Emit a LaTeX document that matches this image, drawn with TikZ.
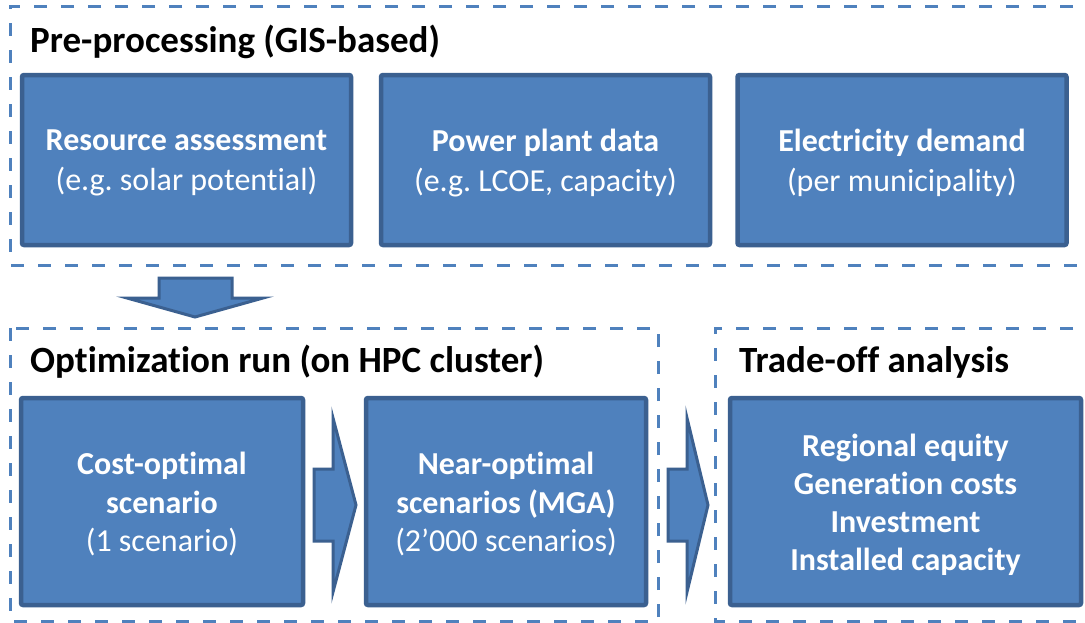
\documentclass[tikz,border=0pt]{standalone}
\usepackage{fontspec}
\setmainfont{Carlito}[RawFeature=-liga]
\usetikzlibrary{calc}
\definecolor{fillb}{HTML}{4F81BD}
\definecolor{edgeb}{HTML}{3B6090}
\definecolor{dashb}{HTML}{4F81BD}
\frenchspacing
\begin{document}
\begin{tikzpicture}[x=1pt,y=-1pt,
  box/.style={draw=edgeb, fill=fillb, line width=4.5pt, rounded corners=2pt,
    inner sep=0pt},
  topbox/.style={box, minimum width=329pt, minimum height=170pt},
  botbox/.style={box, minimum height=207pt},
  boxtext/.style={text=white, align=center, inner sep=0pt},
  toptext/.style={boxtext, font=\fontsize{32}{40}\selectfont},
  bottext/.style={boxtext, font=\fontsize{32}{38.5}\selectfont},
  group/.style={draw=dashb, line width=3pt, dash pattern=on 13pt off 14pt},
  grouptitle/.style={anchor=base west, inner sep=0pt,
    font=\fontsize{37}{44}\selectfont\bfseries},
  blockarrow/.style={draw=edgeb, fill=fillb, line width=3pt, line join=miter}]
\useasboundingbox (0,0) rectangle (1085,622);
\clip (0,0) rectangle (1085,622);
\fill[white] (0,0) rectangle (1085,622);

% groups
\draw[group] (1100,6) -- (10,6) -- (10,265) -- (1100,265);
\draw[group] (10,328) rectangle (658,621);
\draw[group] (1100,328) -- (715,328) -- (715,621) -- (1100,621);

\node[grouptitle] (t1) at (30,52) {Pre-processing (GIS-based)};
\node[grouptitle] (t2) at (30,372) {Optimization run (on HPC cluster)};
\node[grouptitle] (t3) at (739,372) {Trade-off analysis};

% top boxes
\node[topbox] (ra) at (186.5,160) {};
\node[topbox] (pp) at (545.5,160) {};
\node[topbox] (ed) at (902,160) {};
\node[toptext] (ra-t) at ($(ra.center)+(0,3)$) {\textbf{Resource assessment}\\(e.g. solar potential)};
\node[toptext] (pp-t) at ($(pp.center)+(0,3)$) {\textbf{Power plant data}\\(e.g. LCOE, capacity)};
\node[toptext] (ed-t) at ($(ed.center)+(0,3)$) {\textbf{Electricity demand}\\(per municipality)};

% bottom boxes
\node[botbox, minimum width=282pt] (co) at (162,501.5) {};
\node[botbox, minimum width=280pt] (no) at (506,501.5) {};
\node[botbox, minimum width=351pt] (ta) at (905.5,501.5) {};
\node[bottext] (co-t) at ($(co.center)+(0,2.5)$) {\textbf{Cost-optimal}\\\textbf{scenario}\\(1 scenario)};
\node[bottext] (no-t) at ($(no.center)+(0,2.5)$) {\textbf{Near-optimal}\\\textbf{scenarios (MGA)}\\(2’000 scenarios)};
\node[bottext, font=\fontsize{32}{38}\selectfont\bfseries] (ta-t) at ($(ta.center)+(0,3.5)$)
  {Regional equity\\Generation costs\\Investment\\Installed capacity};

% block arrows
\draw[blockarrow] (159,278) -- (232,278) -- (232,298) -- (263,298) -- (195,317)
  -- (127,298) -- (159,298) -- cycle;
\draw[blockarrow] (314,469) -- (333,469) -- (333,418) -- (356,505) -- (333,592)
  -- (333,541) -- (314,541) -- cycle;
\draw[blockarrow] (668,469) -- (687,469) -- (687,418) -- (708,505) -- (687,592)
  -- (687,541) -- (668,541) -- cycle;
\end{tikzpicture}
\end{document}
